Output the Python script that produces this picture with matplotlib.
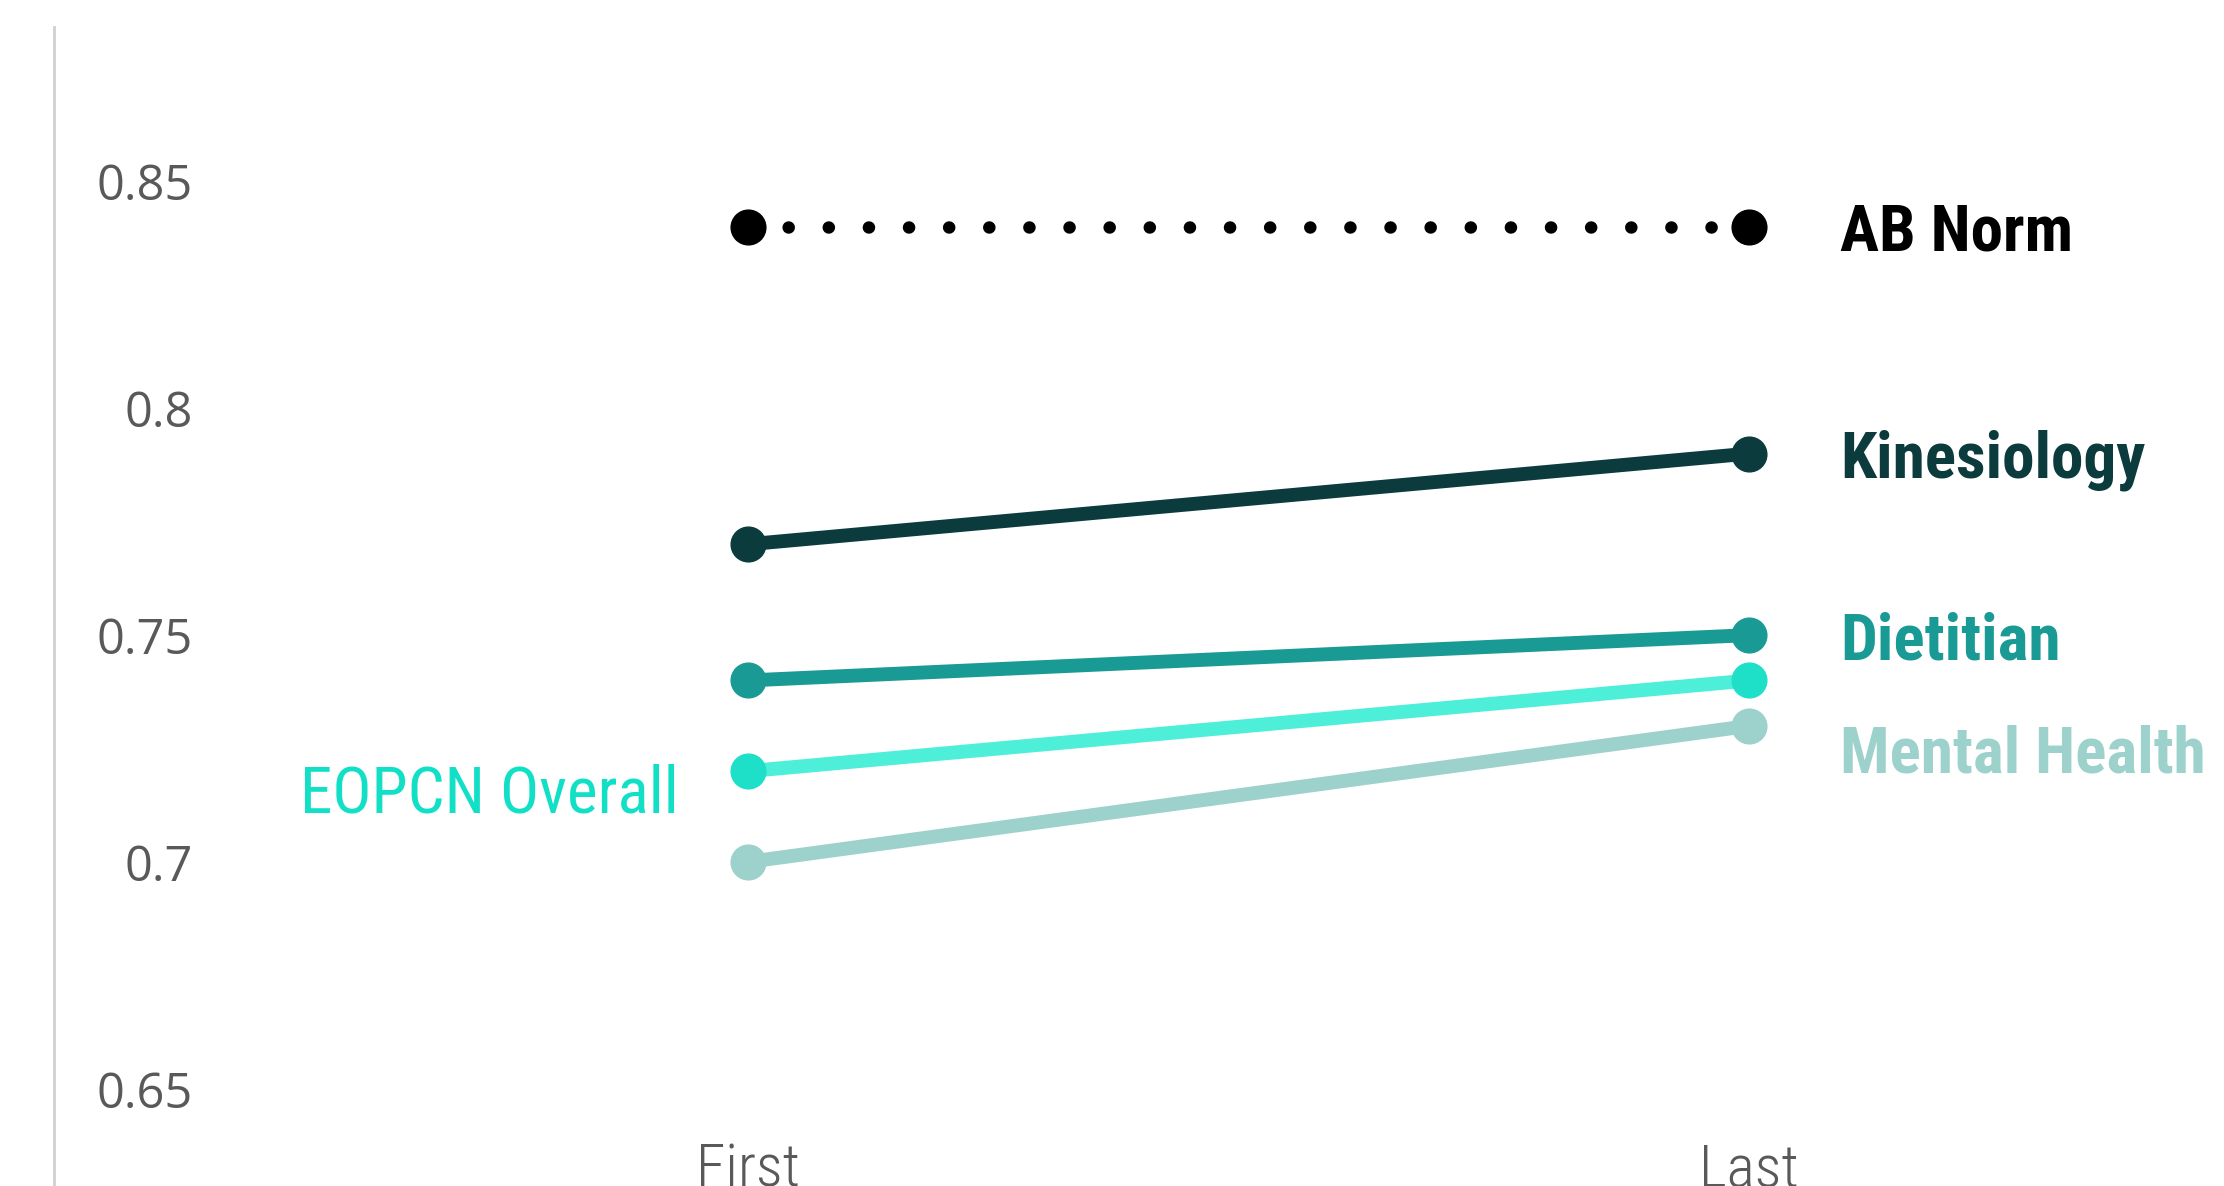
import matplotlib.pyplot as plt

periods = ["First", "Last"]
series = ["AB Norm", "Kinesiology", "Dietitian", "EOPCN Overall", "Mental Health"]
ab_norm = [0.84, 0.84]
kinesiology = [0.77, 0.79]
dietitian = [0.74, 0.75]
eopcn_overall = [0.72, 0.74]
mental_health = [0.70, 0.73]

values = [ab_norm, kinesiology, dietitian, eopcn_overall, mental_health]
line_colors = ["#000000", "#0B3B3C", "#1A9A95", "#4DEFD8", "#9DD1CB"]
marker_colors = ["#000000", "#0B3B3C", "#1A9A95", "#1EE0C8", "#9DD1CB"]
text_colors = ["#000000", "#0B3B3C", "#1A9A95", "#12E0C6", "#9DD1CB"]

label_font = ["Roboto Condensed", "DejaVu Sans"]

fig = plt.figure(figsize=(22.24, 11.86), dpi=100)
ax = fig.add_axes([54 / 2224, 0, 1 - 54 / 2224, 1 - 27 / 1186])

x = [0, 1]
for i, name in enumerate(series):
    if name == "AB Norm":
        ax.plot(x, values[i], color=line_colors[i], lw=9,
                linestyle=(0, (0.01, 3.2)), dash_capstyle="round", zorder=3)
    else:
        ax.plot(x, values[i], color=line_colors[i], lw=10, zorder=3,
                solid_capstyle="round")
    ax.plot(x, values[i], "o", color=marker_colors[i], ms=25, zorder=4)

# series labels
ax.text(1.091, ab_norm[1], "AB Norm", color=text_colors[0], fontsize=47,
        fontweight="bold", family=label_font, va="center_baseline", ha="left")
ax.text(1.091, kinesiology[1], "Kinesiology", color=text_colors[1], fontsize=47,
        fontweight="bold", family=label_font, va="center_baseline", ha="left")
ax.text(1.091, dietitian[1], "Dietitian", color=text_colors[2], fontsize=47,
        fontweight="bold", family=label_font, va="center_baseline", ha="left")
ax.text(1.091, 0.725, "Mental Health", color=text_colors[4], fontsize=47,
        fontweight="bold", family=label_font, va="center_baseline", ha="left")
ax.text(-0.069, 0.7163, "EOPCN Overall", color=text_colors[3], fontsize=47,
        family=label_font, va="center_baseline", ha="right")

ax.set_xlim(-0.6925, 1.474)
ax.set_ylim(0.6286, 0.884)
ax.set_yticks([0.65, 0.7, 0.75, 0.8, 0.85])
ax.set_yticklabels(["0.65", "0.7", "0.75", "0.8", "0.85"])
ax.set_xticks(x)
ax.set_xticklabels(periods)

for lbl in ax.get_yticklabels():
    lbl.set_family(["Open Sans", "DejaVu Sans"])
for lbl in ax.get_xticklabels():
    lbl.set_family(label_font)
    lbl.set_fontweight("light")

ax.tick_params(axis="y", length=0, pad=-100, labelsize=35, labelcolor="#595959")
ax.tick_params(axis="x", length=0, pad=-32, labelsize=43, labelcolor="#595959")

for s in ["top", "right", "bottom"]:
    ax.spines[s].set_visible(False)
ax.spines["left"].set_color("#D0D0D0")
ax.spines["left"].set_linewidth(2)

fig.savefig("out.png", dpi=100)
